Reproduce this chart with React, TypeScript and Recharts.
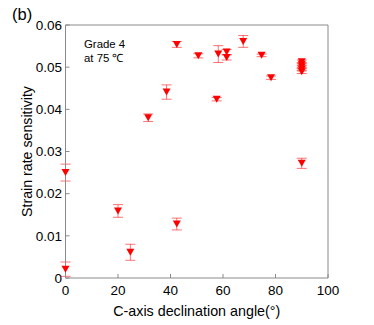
import React from 'react';
import { ScatterChart, Scatter, XAxis, YAxis, ErrorBar } from 'recharts';

const angles = [0, 0, 20, 24.7, 31.5, 38.5, 42.4, 42.4, 50.6, 58.2, 57.6, 61.4, 61.4, 67.7, 74.7, 78.3, 90, 90, 90, 90, 90, 90];
const sensitivity = [0.025, 0.0021, 0.0159, 0.0061, 0.038, 0.0441, 0.0554, 0.0128, 0.0527, 0.0531, 0.0424, 0.0536, 0.0523, 0.0561, 0.0528, 0.0475, 0.0513, 0.0507, 0.0501, 0.0495, 0.0489, 0.0272];
const errors = [0.002, 0.0017, 0.0015, 0.0019, 0.0009, 0.0017, 0.0007, 0.0014, 0.0005, 0.002, 0.0004, 0.0006, 0.0006, 0.0014, 0.0003, 0.0004, 0.0004, 0.0004, 0.0004, 0.0004, 0.0004, 0.0012];

const xTicks = [0, 20, 40, 60, 80, 100];
const yTicks = [0, 0.01, 0.02, 0.03, 0.04, 0.05, 0.06];

const data = angles.map((a, i) => ({ x: a, y: sensitivity[i], err: errors[i] }));

const FONT = '"Liberation Sans", Arial, sans-serif';
const AXIS = '#8a8a8a';

const Tri = (props: any) => {
  const { cx, cy } = props;
  if (cx == null || cy == null) return null;
  const w = 4, h = 3.5;
  return <path d={`M${cx - w},${cy - h} L${cx + w},${cy - h} L${cx},${cy + h} Z`} fill="#ff0000" />;
};

const Nothing = () => <g />;

export default function App() {
  return (
    <div style={{ position: 'absolute', left: 0, top: 0, width: 374, height: 325 }}>
      <ScatterChart width={374} height={325} margin={{ top: 24, right: 45, left: 0, bottom: 17 }}>
        <XAxis
          xAxisId="b"
          dataKey="x"
          type="number"
          domain={[0, 100]}
          ticks={xTicks}
          height={30}
          tickSize={-4}
          tickMargin={11}
          stroke={AXIS}
          tick={{ fill: '#000', fontSize: 13.5, fontFamily: FONT }}
          label={{ value: 'C-axis declination angle(°)', position: 'insideBottom', offset: -8, fill: '#000', fontSize: 14.3, fontFamily: FONT }}
        />
        <XAxis
          xAxisId="t"
          dataKey="x"
          orientation="top"
          type="number"
          domain={[0, 100]}
          ticks={xTicks}
          height={1}
          tickSize={-4}
          tick={false}
          stroke={AXIS}
        />
        <YAxis
          yAxisId="l"
          dataKey="y"
          type="number"
          domain={[0, 0.06]}
          ticks={yTicks}
          width={65.5}
          tickSize={-4}
          tickMargin={7.5}
          stroke={AXIS}
          tickFormatter={(v: number) => (v === 0 ? '0' : v.toFixed(2))}
          tick={{ fill: '#000', fontSize: 13.5, fontFamily: FONT }}
          label={{ value: 'Strain rate sensitivity', angle: -90, position: 'insideLeft', offset: 27, style: { textAnchor: 'middle' }, fill: '#000', fontSize: 14.2, fontFamily: FONT }}
        />
        <YAxis
          yAxisId="r"
          dataKey="y"
          orientation="right"
          type="number"
          domain={[0, 0.06]}
          ticks={yTicks}
          width={1}
          tickSize={-4}
          tick={false}
          stroke={AXIS}
        />
        <Scatter data={data} xAxisId="t" yAxisId="r" shape={<Nothing />} isAnimationActive={false} />
        <Scatter data={data} xAxisId="b" yAxisId="l" shape={<Tri />} isAnimationActive={false}>
          <ErrorBar dataKey="err" direction="y" width={5} stroke="rgba(255,0,0,0.55)" strokeWidth={1} />
        </Scatter>
        <text x={12} y={20} fontSize={16.5} fontFamily={FONT} fill="#000">(b)</text>
        <text x={84} y={48} fontSize={11.4} fontFamily={FONT} fill="#000">Grade 4</text>
        <text x={84} y={61.5} fontSize={11.4} fontFamily={FONT} fill="#000">at 75 ℃</text>
      </ScatterChart>
    </div>
  );
}
